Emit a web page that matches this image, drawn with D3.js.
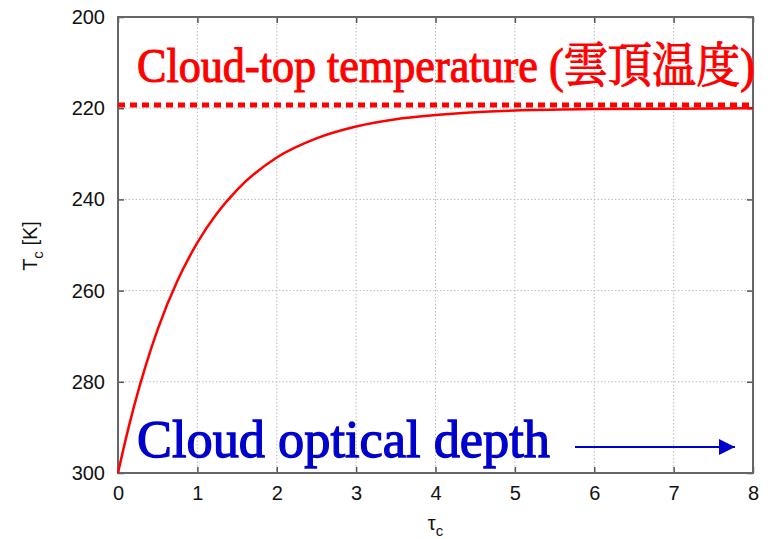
<!DOCTYPE html>
<html>
<head>
<meta charset="utf-8">
<script src="https://cdn.jsdelivr.net/npm/d3@7"></script>
<style>
  body { margin: 0; background: #fff; }
  svg { display: block; }
</style>
</head>
<body>
<svg width="775" height="539"></svg>
<script>
// Data.
const tau = [0, 0.1, 0.2, 0.35, 0.5, 0.75, 1, 1.25, 1.5, 2, 2.5, 3, 3.5, 4, 5, 6, 7, 8];
const tempK = [300, 292.4, 285.5, 276.4, 268.5, 257.8, 249.5, 243.0, 237.9, 230.8, 226.6, 224.0, 222.4, 221.5, 220.5, 220.2, 220.1, 220.0];
const cloudTop = 219.3;
const xTicks = [0, 1, 2, 3, 4, 5, 6, 7, 8];
const yTicks = [200, 220, 240, 260, 280, 300];

const margin = { top: 17, right: 22, bottom: 66, left: 118 };
const width = 775 - margin.left - margin.right;
const height = 539 - margin.top - margin.bottom;
const sans = '"Liberation Sans", Arial, sans-serif';
const serif = '"Liberation Serif", "Noto Serif CJK JP", "Noto Sans CJK JP", serif';

const svg = d3.select('svg');
const g = svg.append('g').attr('transform', `translate(${margin.left},${margin.top})`);

const xScale = d3.scaleLinear().domain([0, 8]).range([0, width]);
const yScale = d3.scaleLinear().domain([200, 300]).range([0, height]);

// Grid.
g.selectAll('.gx')
  .data(xTicks.slice(1, -1))
  .enter()
  .append('line')
  .attr('x1', d => xScale(d)).attr('x2', d => xScale(d))
  .attr('y1', 0).attr('y2', height)
  .style('stroke', '#bbb').style('stroke-width', 1).style('stroke-dasharray', '1.5,2');

g.selectAll('.gy')
  .data(yTicks.slice(1, -1))
  .enter()
  .append('line')
  .attr('x1', 0).attr('x2', width)
  .attr('y1', d => yScale(d)).attr('y2', d => yScale(d))
  .style('stroke', '#bbb').style('stroke-width', 1).style('stroke-dasharray', '1.5,2');

// Axes (ticks pointing inward, mirrored on top and right).
const xAxis = g.append('g')
  .attr('transform', `translate(0,${height})`)
  .call(d3.axisBottom(xScale).tickValues(xTicks).tickSizeInner(-6).tickSizeOuter(0).tickPadding(13));
const yAxis = g.append('g')
  .call(d3.axisLeft(yScale).tickValues(yTicks).tickSizeInner(-6).tickSizeOuter(0).tickPadding(13));
const xTop = g.append('g')
  .call(d3.axisTop(xScale).tickValues(xTicks).tickSizeInner(-6).tickSizeOuter(0).tickFormat(''));
const yRight = g.append('g')
  .attr('transform', `translate(${width},0)`)
  .call(d3.axisRight(yScale).tickValues(yTicks).tickSizeInner(-6).tickSizeOuter(0).tickFormat(''));

[xAxis, yAxis, xTop, yRight].forEach(a => {
  a.select('.domain').remove();
  a.selectAll('line').style('stroke', '#555').style('stroke-width', 1.5);
  a.selectAll('text')
    .style('font-family', sans)
    .style('font-size', '20px')
    .style('fill', '#111');
});

// Frame.
g.append('rect')
  .attr('width', width).attr('height', height)
  .style('fill', 'none').style('stroke', '#666').style('stroke-width', 2);

// Axis labels.
const yLab = svg.append('text')
  .attr('transform', `translate(37,246) rotate(-90)`)
  .attr('text-anchor', 'middle')
  .style('font-family', sans)
  .style('font-size', '20px')
  .style('fill', '#111');
yLab.append('tspan').text('T');
yLab.append('tspan').text('c').attr('dy', 6).style('font-size', '15px');
yLab.append('tspan').text(' [K]').attr('dy', -6);

const xLab = svg.append('text')
  .attr('x', margin.left + xScale(4)).attr('y', 530)
  .attr('text-anchor', 'middle')
  .style('font-family', sans)
  .style('font-size', '20px')
  .style('fill', '#111');
xLab.append('tspan').text('τ');
xLab.append('tspan').text('c').attr('dy', 6).style('font-size', '15px');

// Cloud-top dotted line.
g.append('line')
  .attr('x1', 0).attr('x2', width)
  .attr('y1', yScale(cloudTop)).attr('y2', yScale(cloudTop))
  .style('stroke', '#ff0000').style('stroke-width', 5).style('stroke-dasharray', '7,5');

// Curve.
const line = d3.line()
  .x((d, i) => xScale(tau[i]))
  .y(d => yScale(d))
  .curve(d3.curveMonotoneX);

g.append('path')
  .datum(tempK)
  .attr('d', line)
  .style('fill', 'none').style('stroke', '#ff0000').style('stroke-width', 2.5);

// Annotations (medium weight: regular face with a thin outline, squeezed horizontally).
svg.append('text')
  .attr('transform', 'translate(137,82) scale(0.92,1)')
  .text('Cloud-top temperature (雲頂温度)')
  .style('font-family', serif)
  .style('font-size', '48px')
  .style('fill', '#ff0000')
  .style('stroke', '#ff0000').style('stroke-width', 1.1);

svg.append('text')
  .attr('x', 137).attr('y', 457)
  .attr('textLength', 413)
  .attr('lengthAdjust', 'spacingAndGlyphs')
  .text('Cloud optical depth')
  .style('font-family', serif)
  .style('font-size', '53px')
  .style('fill', '#0000cc')
  .style('stroke', '#0000cc').style('stroke-width', 1.3);

svg.append('defs').append('marker')
  .attr('id', 'arr')
  .attr('viewBox', '0 0 10 10')
  .attr('refX', 10).attr('refY', 5)
  .attr('markerWidth', 8).attr('markerHeight', 8)
  .attr('markerUnits', 'strokeWidth')
  .attr('orient', 'auto')
  .append('path')
  .attr('d', 'M0,0L10,5L0,10Z')
  .style('fill', '#0000cc');

svg.append('line')
  .attr('x1', 575).attr('x2', 735)
  .attr('y1', 447).attr('y2', 447)
  .style('stroke', '#0000cc').style('stroke-width', 2)
  .attr('marker-end', 'url(#arr)');
</script>
</body>
</html>
